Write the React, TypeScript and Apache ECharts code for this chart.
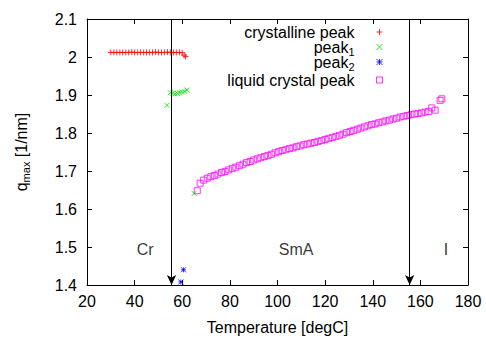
import React, { useEffect, useRef } from 'react';
import * as echarts from 'echarts';

const FONT = '"Liberation Sans", Arial, sans-serif';

const xTicks = { min: 20, max: 180, interval: 20 };
const yTicks = { min: 1.4, max: 2.1, interval: 0.1 };

const crystallineT = [30, 31.3, 32.5, 33.8, 35, 36.3, 37.5, 38.8, 40, 41.3, 42.5, 43.8, 45, 46.3, 47.5, 48.8, 50, 51.3, 52.5, 53.8, 55, 56.3, 57.5, 58.8, 60, 60.8, 61.4];
const crystallineQ = [2.012, 2.012, 2.012, 2.012, 2.012, 2.012, 2.012, 2.013, 2.012, 2.012, 2.012, 2.012, 2.012, 2.012, 2.012, 2.013, 2.012, 2.012, 2.012, 2.013, 2.012, 2.012, 2.012, 2.012, 2.011, 2.005, 2.001];

const peak1T = [53.6, 55, 56, 57, 58, 59, 60, 61, 62, 65];
const peak1Q = [1.873, 1.906, 1.905, 1.903, 1.904, 1.906, 1.908, 1.910, 1.913, 1.641];

const peak2T = [59.4, 60.5];
const peak2Q = [1.408, 1.440];

const lcT = [66.3, 67.5, 69, 70.5, 72, 73.5, 75, 76.5, 78, 79.5, 81, 82.5, 84, 85.5, 87, 88.5, 90, 91.5, 93, 94.5, 96, 97.5, 99, 100.5, 102, 103.5, 105, 106.5, 108, 109.5, 111, 112.5, 114, 115.5, 117, 118.5, 120, 121.5, 123, 124.5, 126, 127.5, 129, 130.5, 132, 133.5, 135, 136.5, 138, 139.5, 141, 142.5, 144, 145.5, 147, 148.5, 150, 151.5, 153, 154.5, 156, 157.5, 159, 160.5, 162, 163.5, 164.8, 166.2, 168.3, 169];
const lcQ = [1.648, 1.668, 1.676, 1.681, 1.685, 1.688, 1.692, 1.696, 1.699, 1.703, 1.707, 1.710, 1.714, 1.718, 1.722, 1.725, 1.729, 1.732, 1.735, 1.738, 1.741, 1.744, 1.748, 1.751, 1.754, 1.756, 1.759, 1.761, 1.764, 1.766, 1.769, 1.771, 1.773, 1.775, 1.778, 1.780, 1.783, 1.786, 1.788, 1.791, 1.794, 1.797, 1.801, 1.804, 1.807, 1.810, 1.813, 1.816, 1.819, 1.822, 1.824, 1.827, 1.829, 1.832, 1.834, 1.837, 1.839, 1.842, 1.844, 1.846, 1.848, 1.850, 1.851, 1.853, 1.855, 1.857, 1.866, 1.860, 1.886, 1.890];

const phaseNames = ['Cr', 'SmA', 'I'];
const phaseT = [44.4, 107.8, 170.8];
const phaseQ = [1.493, 1.493, 1.493];

const transitionT = [55.5, 155.5];

const seriesNames = ['crystalline peak', 'peak_1', 'peak_2', 'liquid crystal peak'];
const seriesColors = ['#ff0000', '#00e000', '#0000ff', '#ff00ff'];

const PLUS = 'path://M5,0L5,10M0,5L10,5';
const CROSS = 'path://M0,0L10,10M10,0L0,10';
const STAR = 'path://M5,0L5,10M0,5L10,5M0,0L10,10M10,0L0,10';
const SQUARE = 'path://M0,0L10,0L10,10L0,10Z';

const zip = (a: number[], b: number[]) => a.map((v, i) => [v, b[i]]);

const subRich = {
  sub: { fontSize: 11, lineHeight: 11, padding: [10, 0, 0, 0], fontFamily: FONT, color: '#000' },
};

function makeLegend(name: string, label: string, top: number) {
  return {
    data: [name],
    orient: 'vertical',
    right: 103,
    top,
    padding: 0,
    align: 'right',
    itemWidth: 40,
    itemHeight: 6,
    selectedMode: false,
    formatter: () => label,
    itemStyle: { borderWidth: 1 },
    textStyle: { fontSize: 16, color: '#000', fontFamily: FONT, rich: subRich },
  };
}

export default function App() {
  const ref = useRef<HTMLDivElement>(null);
  useEffect(() => {
    const chart = echarts.init(ref.current!, null, { renderer: 'svg' });
    const axisCommon = {
      axisLine: { show: true, lineStyle: { color: '#000', width: 1 } },
      axisTick: { show: true, inside: true, length: 5, lineStyle: { color: '#000' } },
      splitLine: { show: false },
    };
    const option: any = {
      animation: false,
      backgroundColor: '#fff',
      textStyle: { fontFamily: FONT },
      grid: { left: 87, right: 18, top: 19, bottom: 50 },
      legend: [
        makeLegend(seriesNames[0], 'crystalline peak', 24),
        makeLegend(seriesNames[1], 'peak{sub|1}', 36.5),
        makeLegend(seriesNames[2], 'peak{sub|2}', 51.5),
        makeLegend(seriesNames[3], 'liquid crystal peak', 72),
      ],
      xAxis: [
        {
          type: 'value', ...xTicks, position: 'bottom', ...axisCommon,
          axisLabel: { fontSize: 16, color: '#000', margin: 8, fontFamily: FONT },
          name: 'Temperature [degC]', nameLocation: 'middle', nameGap: 34,
          nameTextStyle: { fontSize: 16, color: '#000', fontFamily: FONT },
        },
        { type: 'value', ...xTicks, position: 'top', ...axisCommon, axisLabel: { show: false } },
      ],
      yAxis: [
        {
          type: 'value', ...yTicks, position: 'left', ...axisCommon,
          axisLabel: { fontSize: 16, color: '#000', margin: 10, fontFamily: FONT },
          name: 'q{sub|max} [1/nm]', nameLocation: 'middle', nameGap: 58, nameRotate: 90,
          nameTextStyle: { fontSize: 16, color: '#000', fontFamily: FONT, rich: subRich },
        },
        { type: 'value', ...yTicks, position: 'right', ...axisCommon, axisLabel: { show: false } },
      ],
      series: [
        {
          name: seriesNames[0], type: 'scatter', symbol: PLUS, symbolSize: 6,
          itemStyle: { color: 'transparent', borderColor: seriesColors[0], borderWidth: 1 },
          data: zip(crystallineT, crystallineQ),
        },
        {
          name: seriesNames[1], type: 'scatter', symbol: CROSS, symbolSize: 5,
          itemStyle: { color: 'transparent', borderColor: seriesColors[1], borderWidth: 1 },
          data: zip(peak1T, peak1Q),
        },
        {
          name: seriesNames[2], type: 'scatter', symbol: STAR, symbolSize: 5,
          itemStyle: { color: 'transparent', borderColor: seriesColors[2], borderWidth: 1 },
          data: zip(peak2T, peak2Q),
        },
        {
          name: seriesNames[3], type: 'scatter', symbol: SQUARE, symbolSize: 6,
          itemStyle: { color: 'transparent', borderColor: seriesColors[3], borderWidth: 1 },
          data: zip(lcT, lcQ),
        },
        {
          name: 'phases', type: 'scatter', symbolSize: 1,
          itemStyle: { color: 'transparent' },
          silent: true,
          data: phaseT.map((t, i) => ({ value: [t, phaseQ[i]], name: phaseNames[i] })),
          label: {
            show: true, position: 'inside', formatter: (p: any) => p.name,
            fontSize: 16, color: '#000', fontFamily: FONT,
          },
          markLine: {
            silent: true,
            symbol: ['arrow', 'none'],
            symbolSize: [7, 10],
            label: { show: false },
            lineStyle: { color: '#000', width: 1, type: 'solid' },
            data: transitionT.map((t) => ({ xAxis: t })),
          },
        },
      ],
    };
    chart.setOption(option);
    return () => chart.dispose();
  }, []);
  return <div ref={ref} style={{ position: 'fixed', left: 0, top: 0, width: 486, height: 340 }} />;
}
